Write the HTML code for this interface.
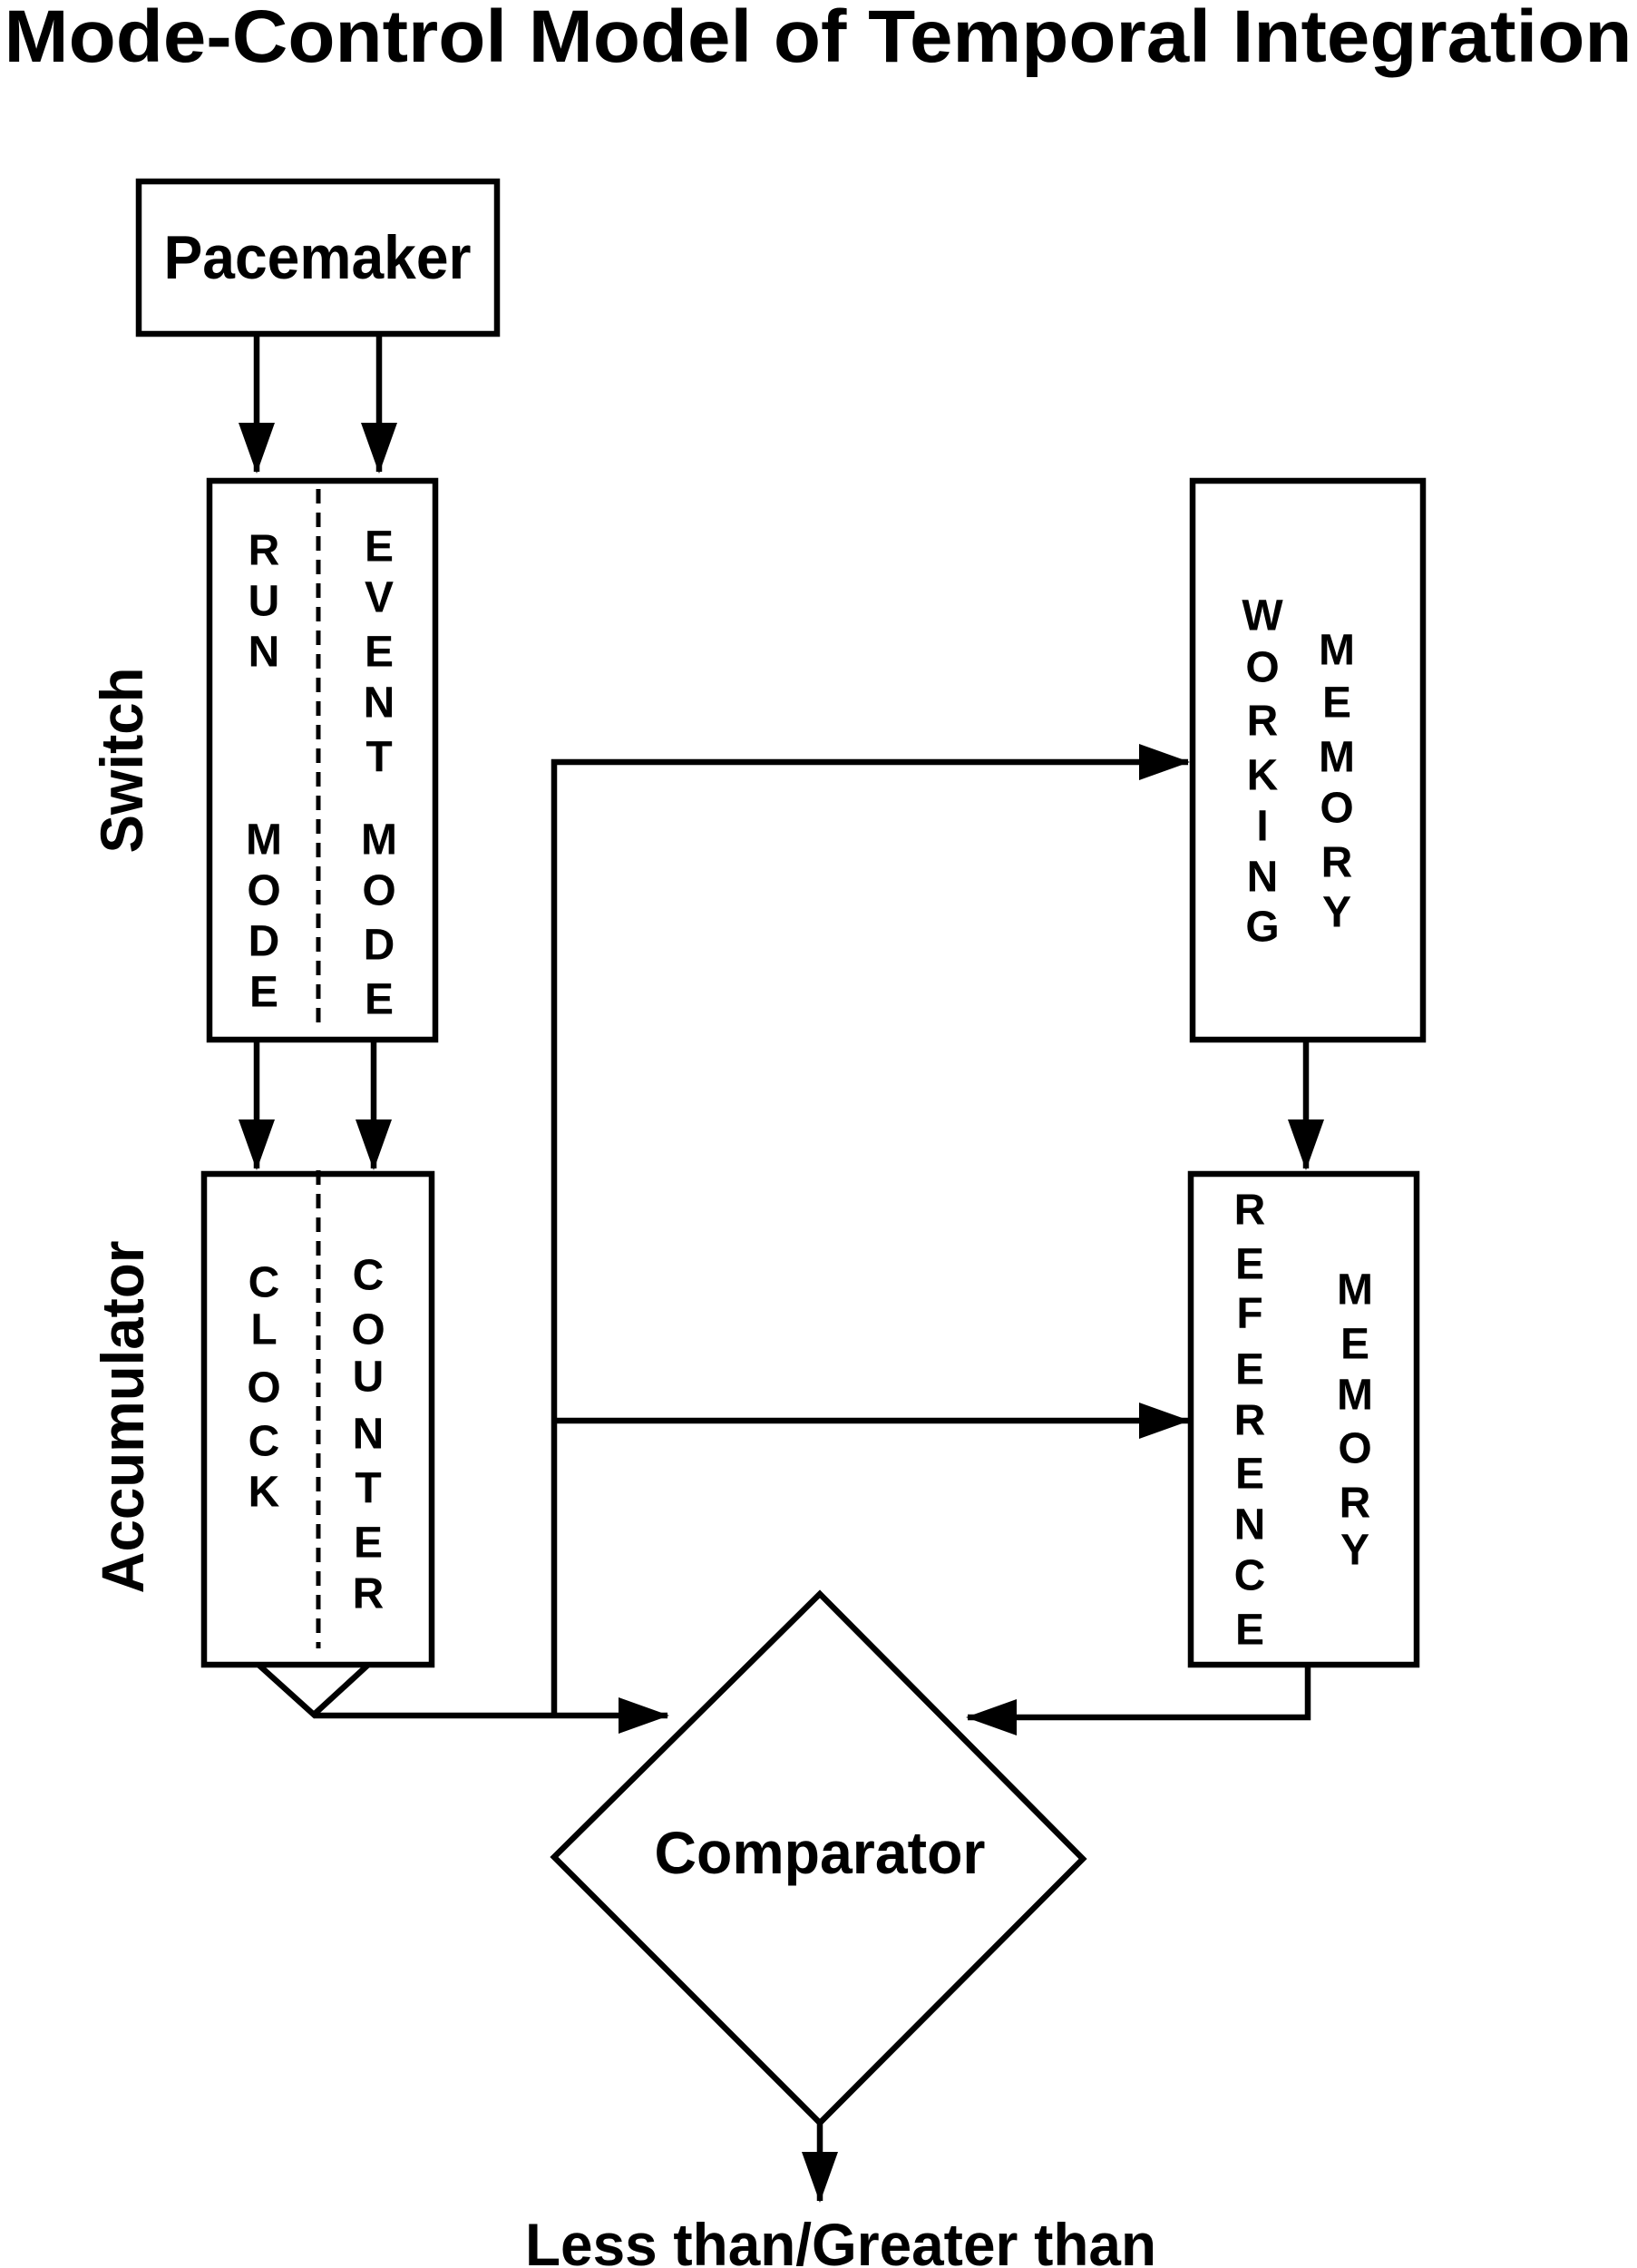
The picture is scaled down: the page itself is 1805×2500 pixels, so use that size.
<!DOCTYPE html>
<html><head><meta charset="utf-8"><style>
html,body{margin:0;padding:0;background:#fff}
svg{display:block}
text{font-family:"Liberation Sans",Arial,sans-serif;font-weight:bold;fill:#000}
</style></head><body>
<svg width="1805" height="2500" viewBox="0 0 1805 2500" xmlns="http://www.w3.org/2000/svg">
<defs>
<marker id="ah" markerWidth="56" markerHeight="44" refX="54" refY="22" markerUnits="userSpaceOnUse" orient="auto">
<path d="M0,2 L56,22 L0,42 Z" fill="#000"/>
</marker>
</defs>
<text x="902" y="68" font-size="82" text-anchor="middle" textLength="1795" lengthAdjust="spacingAndGlyphs">Mode-Control Model of Temporal Integration</text>

<g fill="none" stroke="#000" stroke-width="6.5">
<rect x="153" y="200" width="395" height="168"/>
<rect x="231" y="530" width="249" height="616"/>
<rect x="225" y="1294" width="251" height="541"/>
<rect x="1315" y="530" width="254" height="616"/>
<rect x="1313" y="1294" width="249" height="541"/>
<path d="M904,1757 L1194,2049 L904,2340 L611,2047 Z" stroke-linejoin="miter"/>
<path d="M285,1835 L346,1890 L406,1835"/>
<line x1="351" y1="539" x2="351" y2="1128" stroke-dasharray="16,10" stroke-width="5"/>
<line x1="351" y1="1290" x2="351" y2="1817" stroke-dasharray="16,10" stroke-width="5"/>
<line x1="283" y1="368" x2="283" y2="520" marker-end="url(#ah)"/>
<line x1="418" y1="368" x2="418" y2="520" marker-end="url(#ah)"/>
<line x1="283" y1="1146" x2="283" y2="1288" marker-end="url(#ah)"/>
<line x1="412" y1="1146" x2="412" y2="1288" marker-end="url(#ah)"/>
<line x1="1440" y1="1146" x2="1440" y2="1288" marker-end="url(#ah)"/>
<path d="M346,1891 L736,1891" marker-end="url(#ah)"/>
<path d="M611,1891 L611,840 L1310,840" marker-end="url(#ah)"/>
<path d="M611,1566 L1310,1566" marker-end="url(#ah)"/>
<path d="M1442,1835 L1442,1893 L1067,1893" marker-end="url(#ah)"/>
<line x1="904" y1="2340" x2="904" y2="2426" marker-end="url(#ah)"/>
</g>

<text x="350" y="307" font-size="68" text-anchor="middle" textLength="339" lengthAdjust="spacingAndGlyphs">Pacemaker</text>
<text x="904" y="2065" font-size="66" text-anchor="middle" textLength="365" lengthAdjust="spacingAndGlyphs">Comparator</text>
<text x="927" y="2497" font-size="66" text-anchor="middle" textLength="696" lengthAdjust="spacingAndGlyphs">Less than/Greater than</text>
<text transform="translate(157,838) rotate(-90)" font-size="66" text-anchor="middle" textLength="205" lengthAdjust="spacingAndGlyphs">Switch</text>
<text transform="translate(158,1562) rotate(-90)" font-size="66" text-anchor="middle" textLength="389" lengthAdjust="spacingAndGlyphs">Accumulator</text>

<g font-size="48" text-anchor="middle" dominant-baseline="central">
<text x="291" y="607">R</text><text x="291" y="663">U</text><text x="291" y="719">N</text>
<text x="291" y="926">M</text><text x="291" y="982">O</text><text x="291" y="1038">D</text><text x="291" y="1094">E</text>
<text x="418" y="603">E</text><text x="418" y="659">V</text><text x="418" y="719">E</text><text x="418" y="775">N</text><text x="418" y="835">T</text>
<text x="418" y="926">M</text><text x="418" y="982">O</text><text x="418" y="1042">D</text><text x="418" y="1102">E</text>
<text x="291" y="1414">C</text><text x="291" y="1466">L</text><text x="291" y="1530">O</text><text x="291" y="1589">C</text><text x="291" y="1645">K</text>
<text x="406" y="1406">C</text><text x="406" y="1466">O</text><text x="406" y="1518">U</text><text x="406" y="1581">N</text><text x="406" y="1641">T</text><text x="406" y="1701">E</text><text x="406" y="1757">R</text>
<text x="1392" y="679">W</text><text x="1392" y="736">O</text><text x="1392" y="795">R</text><text x="1392" y="855">K</text><text x="1392" y="911">I</text><text x="1392" y="967">N</text><text x="1392" y="1022">G</text>
<text x="1474" y="717">M</text><text x="1474" y="775">E</text><text x="1474" y="835">M</text><text x="1474" y="891">O</text><text x="1474" y="951">R</text><text x="1474" y="1006">Y</text>
<text x="1378" y="1334">R</text><text x="1378" y="1394">E</text><text x="1378" y="1448">F</text><text x="1378" y="1510">E</text><text x="1378" y="1566">R</text><text x="1378" y="1625">E</text><text x="1378" y="1681">N</text><text x="1378" y="1737">C</text><text x="1378" y="1797">E</text>
<text x="1494" y="1422">M</text><text x="1494" y="1482">E</text><text x="1494" y="1538">M</text><text x="1494" y="1597">O</text><text x="1494" y="1657">R</text><text x="1494" y="1709">Y</text>
</g>
</svg>
</body></html>
